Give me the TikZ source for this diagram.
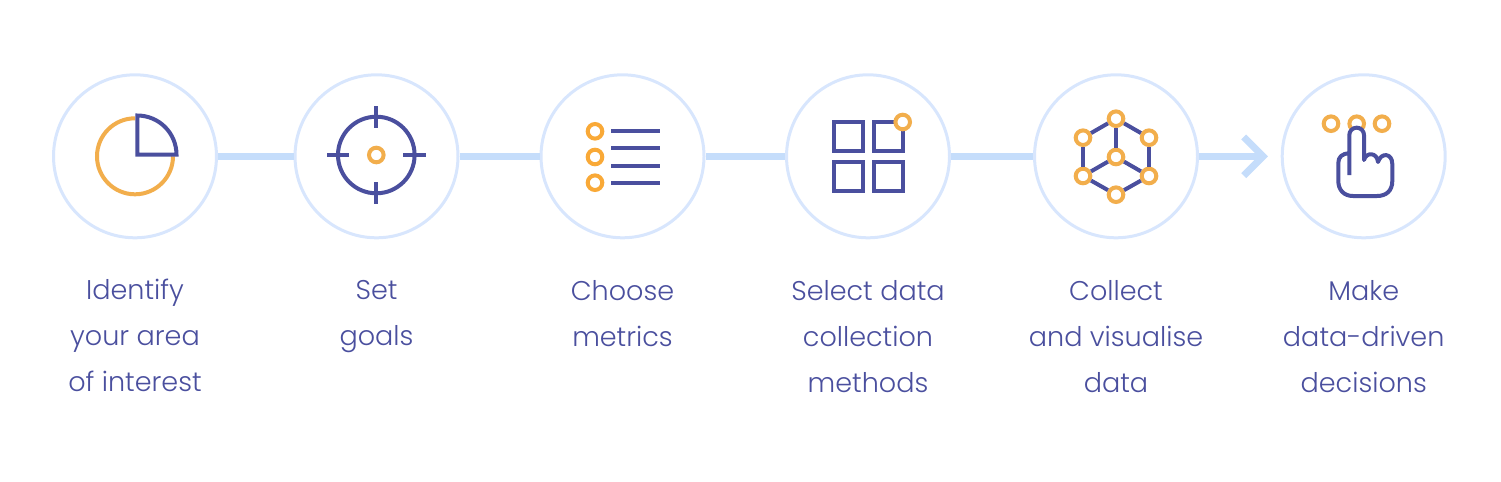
\documentclass[tikz,border=0pt]{standalone}
\usepackage{fontspec}
\setmainfont{Poppins}[UprightFont=* Light]
\usepackage{tikz}
\usetikzlibrary{positioning}
\definecolor{ringblue}{HTML}{D8E6FD}
\definecolor{linkblue}{HTML}{C5DDFB}
\definecolor{inkblue}{HTML}{4A4F9E}
\definecolor{dotorange}{HTML}{F2AE4C}
\definecolor{listorange}{HTML}{F9A937}
\newdimen\pxu
\pxu=0.02cm
\tikzset{
  ring/.style={draw=ringblue,fill=white,circle,line width=3\pxu,minimum size=163\pxu,inner sep=0pt},
  link/.style={draw=linkblue,line width=7\pxu},
  ink/.style={draw=inkblue,line width=4\pxu},
  hole/.style={draw=dotorange,fill=white,circle,line width=4\pxu,minimum size=14.6\pxu,inner sep=0pt},
  steplabel/.style={align=center,inkblue,inner sep=0pt,below=41\pxu of #1,
    font=\fontsize{15.4pt}{26.2pt}\selectfont,execute at begin node=\strut},
}
\begin{document}
\begin{tikzpicture}[x=0.02cm,y=-0.02cm]
\useasboundingbox (0,0) rectangle (1501,481);
% rings
\node [ring] (c1) at (135,156.3) {};
\node [ring,right=75.5\pxu of c1] (c2) {};
\node [ring,right=80\pxu of c2] (c3) {};
\node [ring,right=79.5\pxu of c3] (c4) {};
\node [ring,right=82\pxu of c4] (c5) {};
\node [ring,right=81.7\pxu of c5] (c6) {};
\coordinate (tip) at (1263,156.3);
\draw [link] (c1) -- (c2);
\draw [link] (c2) -- (c3);
\draw [link] (c3) -- (c4);
\draw [link] (c4) -- (c5);
\draw [link] (c5) -- (tip);
\draw [link] (1243.7,137) -- (tip) -- (1243.7,175.6);
% pie
\draw [draw=dotorange,line width=4\pxu] (135,118.3) arc [start angle=90,end angle=360,radius=38\pxu];
\draw [ink] (137.3,154.7) -- (137.3,115.5) arc [start angle=90,end angle=0,radius=39.2\pxu] -- cycle;
% target
\draw [ink] (376.3,155) circle [radius=38.3];
\draw [ink] (376.3,106) -- (376.3,127.7) (376.3,182) -- (376.3,204);
\draw [ink] (327,155) -- (349,155) (403,155) -- (425.7,155);
\node [hole] (aim) at (376.3,155) {};
% list
\foreach \y/\z in {131.3/a,157/b,182.7/c}
  \node [hole,draw=listorange] (item\z) at (595,\y) {};
\foreach \y in {131.3,148.3,165.7,182.7}
  \draw [ink] (611.3,\y) -- (659.7,\y);
% grid
\foreach \x in {834,873.7}
  \foreach \y in {122,162}
    \draw [ink] (\x,\y) rectangle +(29.3,29);
\node [hole] (corner) at (902.7,122) {};
% cube
\node [hole] (top) at (1116,118.7) {};
\node [hole] (ul) at (1083,137.7) {};
\node [hole] (ur) at (1149,137.7) {};
\node [hole] (mid) at (1116,157) {};
\node [hole] (ll) at (1083,176) {};
\node [hole] (lr) at (1149,176) {};
\node [hole] (bot) at (1116,194.7) {};
\foreach \a/\b in {top/ul,top/ur,top/mid,ul/ll,ur/lr,mid/ll,mid/lr,ll/bot,lr/bot}
  \draw [ink] (\a) -- (\b);
% hand
\foreach \x/\z in {1331/a,1356.7/b,1382/c}
  \node [hole] (key\z) at (\x,123.7) {};
\draw [ink,fill=white,line join=round] (1349.3,175) -- (1349.3,135) arc [start angle=180,end angle=0,radius=7.35\pxu] -- (1364,160)
  .. controls (1366,152) and (1377,152) .. (1378,162)
  .. controls (1381,152) and (1392.3,153) .. (1392.3,164) -- (1392.3,181)
  .. controls (1392.3,191) and (1386,196) .. (1377,196) -- (1353,196)
  .. controls (1344,196) and (1338.3,190) .. (1338.3,181) -- (1338.3,163)
  .. controls (1338.3,157) and (1342,153.5) .. (1349.3,153.3);
% labels
\node [steplabel=c1,yshift=2\pxu] (t1) {Identify\\your area\\of interest};
\node [steplabel=c2] (t2) {Set\\goals};
\node [steplabel=c3] (t3) {Choose\\metrics};
\node [steplabel=c4] (t4) {Select data\\collection\\methods};
\node [steplabel=c5] (t5) {Collect\\and visualise\\data};
\node [steplabel=c6] (t6) {Make\\data-driven\\decisions};
\end{tikzpicture}
\end{document}
